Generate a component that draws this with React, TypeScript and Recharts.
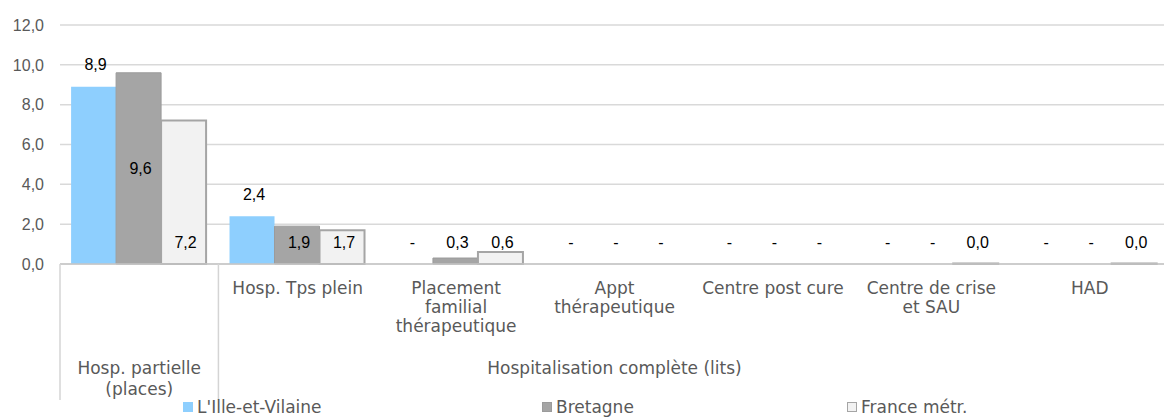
// Psychiatry capacity per population, three-level comparison (multi-level category axis)
import { BarChart, Bar, XAxis, YAxis, CartesianGrid, Legend, LabelList, Cell } from 'recharts';

const categories = ['', 'Hosp. Tps plein', 'Placement\nfamilial\nthérapeutique', 'Appt\nthérapeutique', 'Centre post cure', 'Centre de crise\net SAU', 'HAD'];
const groupLabels = ['Hosp. partielle\n(places)', '', '', 'Hospitalisation complète (lits)', '', '', ''];
const illeEtVilaine = [8.9, 2.4, 0, 0, 0, 0, 0];
const bretagne = [9.6, 1.9, 0.3, 0, 0, 0, 0];
const franceMetr = [7.2, 1.7, 0.6, 0, 0, 0.02, 0.02];
const yTicks = [0, 2, 4, 6, 8, 10, 12];
const seriesNames = ["L'Ille-et-Vilaine", 'Bretagne', 'France métr.'];

const data = categories.map((c, i) => ({
  id: i,
  ille: illeEtVilaine[i],
  bret: bretagne[i],
  fr: franceMetr[i],
}));

const W = 1172;
const H = 419;
const BASE_LABEL_Y = 242;
const CAT_FONT = '"DejaVu Sans", Verdana, sans-serif';
const NUM_FONT = '"Liberation Sans", Arial, sans-serif';

const fmt = (v: number) => (v === 0 ? '-' : v.toFixed(1).replace('.', ','));
// zero values still need a (invisible) rect so their "-" label gets drawn
const zeroSize = (v: any) => (v === 0 ? 0.01 : 0);

const swatches = [
  { fill: '#8ECFFE', stroke: 'none' },
  { fill: '#A5A5A5', stroke: '#9B9B9B' },
  { fill: '#F2F2F2', stroke: '#A5A5A5' },
];
const legendLeft = [183, 542, 847];

function CategoryTick(props: any) {
  const { x, y, payload, width } = props;
  const i = payload.index ?? payload.value;
  const half = width / categories.length / 2;
  const sub = categories[i] ? categories[i].split('\n') : [];
  const grp = groupLabels[i] ? groupLabels[i].split('\n') : [];
  return (
    <g>
      {sub.map((line: string, k: number) => (
        <text key={'s' + k} x={x} y={y + 30 + k * 19} textAnchor="middle" fill="#595959" fontFamily={CAT_FONT} fontSize={17}>
          {line}
        </text>
      ))}
      {grp.map((line: string, k: number) => (
        <text key={'g' + k} x={x} y={y + 110 + k * 21} textAnchor="middle" fill="#595959" fontFamily={CAT_FONT} fontSize={17}>
          {line}
        </text>
      ))}
      {i === 0 && (
        <>
          <line x1={x - half} x2={x - half} y1={y} y2={y + 136} stroke="#D4D4D4" strokeWidth={1.5} />
          <line x1={x + half} x2={x + half} y1={y} y2={y + 136} stroke="#D4D4D4" strokeWidth={1.5} />
        </>
      )}
    </g>
  );
}

function makeLabel(mode: 'above' | 'center' | 'base') {
  return (props: any) => {
    const { x, y, width, height, value } = props;
    const top = value === 0 ? y + height : y;
    let cy = BASE_LABEL_Y;
    if (mode === 'above') cy = Math.min(top - 22, BASE_LABEL_Y);
    if (mode === 'center') cy = Math.min(y + height / 2, BASE_LABEL_Y);
    return (
      <text x={x + width / 2 + 2} y={cy} dominantBaseline="central" textAnchor="middle" fill="#000" fontFamily={NUM_FONT} fontSize={16}>
        {fmt(value)}
      </text>
    );
  };
}

function LegendContent() {
  return (
    <div style={{ position: 'relative', width: W, height: 24 }}>
      {seriesNames.map((name, i) => (
        <div key={name} style={{ position: 'absolute', left: legendLeft[i], top: 2, display: 'flex', alignItems: 'center', height: 20 }}>
          <span
            style={{
              display: 'inline-block',
              width: 10,
              height: 10,
              background: swatches[i].fill,
              border: swatches[i].stroke === 'none' ? 'none' : `1px solid ${swatches[i].stroke}`,
              boxSizing: 'border-box',
              marginRight: 4,
            }}
          />
          <span style={{ fontFamily: CAT_FONT, fontSize: 17, color: '#595959' }}>{name}</span>
        </div>
      ))}
    </div>
  );
}

export default function App() {
  return (
    <div style={{ position: 'absolute', left: 0, top: 0, width: W, height: H, background: '#fff' }}>
      <BarChart width={W} height={H} data={data} margin={{ top: 25, right: 3, left: 0, bottom: 0 }} barCategoryGap="7%" barGap={0}>
        <CartesianGrid vertical={false} stroke="#D9D9D9" strokeWidth={1.5} />
        <YAxis
          width={60}
          domain={[0, 12]}
          ticks={yTicks}
          interval={0}
          axisLine={false}
          tickLine={false}
          tickSize={0}
          tickMargin={16}
          tickFormatter={(v: number) => v.toFixed(1).replace('.', ',')}
          tick={{ fill: '#595959', fontFamily: NUM_FONT, fontSize: 16 }}
        />
        <XAxis
          dataKey="id"
          height={131}
          interval={0}
          tickLine={false}
          tickSize={0}
          tickMargin={0}
          axisLine={{ stroke: '#C6C6C6', strokeWidth: 1.5 }}
          tick={<CategoryTick />}
        />
        <Legend verticalAlign="bottom" wrapperStyle={{ left: 0, bottom: 0, width: W }} content={<LegendContent />} />
        <Bar dataKey="ille" name={seriesNames[0]} fill={swatches[0].fill} minPointSize={zeroSize} isAnimationActive={false}>
          <LabelList dataKey="ille" content={makeLabel('above')} />
        </Bar>
        <Bar dataKey="bret" name={seriesNames[1]} fill={swatches[1].fill} minPointSize={zeroSize} isAnimationActive={false}>
          {bretagne.map((v, i) => (
            <Cell key={i} stroke={v === 0 ? 'none' : swatches[1].stroke} strokeWidth={1} />
          ))}
          <LabelList dataKey="bret" content={makeLabel('center')} />
        </Bar>
        <Bar dataKey="fr" name={seriesNames[2]} fill={swatches[2].fill} minPointSize={zeroSize} isAnimationActive={false}>
          {franceMetr.map((v, i) => (
            <Cell key={i} stroke={v === 0 ? 'none' : swatches[2].stroke} strokeWidth={2} />
          ))}
          <LabelList dataKey="fr" content={makeLabel('base')} />
        </Bar>
      </BarChart>
    </div>
  );
}
